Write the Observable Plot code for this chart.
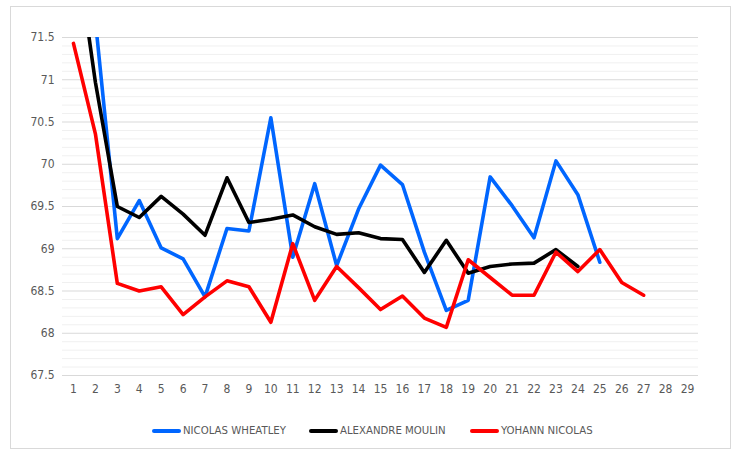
<!DOCTYPE html>
<html>
<head>
<meta charset="utf-8">
<script src="https://cdn.jsdelivr.net/npm/d3@7"></script>
<script src="https://cdn.jsdelivr.net/npm/@observablehq/plot@0.6"></script>
<style>
  body { margin: 0; background: #fff; width: 734px; height: 450px; overflow: hidden; position: relative;
         font-family: "Liberation Sans Narrow", "DejaVu Sans Condensed", sans-serif; }
  #frame { position: absolute; left: 10px; top: 6px; width: 719px; height: 441px; border: 1px solid #d9d9d9; pointer-events: none; }
  #legend { position: absolute; left: 0; top: 424px; width: 734px; height: 16px; }
  .item { position: absolute; top: 0; display: flex; align-items: center; font-size: 11.3px; color: #595959; white-space: nowrap; }
  .swatch { width: 29px; height: 4px; border-radius: 2px; margin-right: 2px; }
</style>
</head>
<body>
<div id="chart"></div>
<div id="legend"></div>
<div id="frame"></div>
<script>
const laps = d3.range(1, 30); // categories 1..29
const seriesNames = ["NICOLAS WHEATLEY", "ALEXANDRE MOULIN", "YOHANN NICOLAS"];
const seriesColors = ["#0066ff", "#000000", "#ff0000"];

const wheatley = [null, 71.7, 69.12, 69.57, 69.01, 68.88, 68.43, 69.24, 69.21, 70.55,
  68.9, 69.77, 68.8, 69.47, 69.99, 69.76, 68.96, 68.27, 68.39, 69.85,
  69.51, 69.13, 70.04, 69.64, 68.84];
const moulin = [72.8, 70.97, 69.5, 69.37, 69.62, 69.41, 69.16, 69.84, 69.31, 69.35,
  69.4, 69.26, 69.17, 69.19, 69.12, 69.11, 68.72, 69.1, 68.71, 68.79,
  68.82, 68.83, 68.99, 68.79];
const nicolas = [71.43, 70.36, 68.59, 68.5, 68.55, 68.22, 68.43, 68.62, 68.55, 68.13,
  69.06, 68.39, 68.79, 68.54, 68.28, 68.44, 68.18, 68.07, 68.87, 68.66,
  68.45, 68.45, 68.96, 68.73, 68.99, 68.6, 68.45];

const yTicks = [67.5, 68, 68.5, 69, 69.5, 70, 70.5, 71, 71.5];
const yMinor = d3.range(675, 716, 1).map(v => v / 10).filter(v => Math.round(v * 10) % 5 !== 0);

const allSeries = [wheatley, moulin, nicolas];
const rows = [];
allSeries.forEach((vals, si) => {
  vals.forEach((v, i) => { if (v != null) rows.push({lap: laps[i], value: v, series: seriesNames[si]}); });
});

const chart = Plot.plot({
  width: 734,
  height: 405,
  marginTop: 37,
  marginBottom: 30,
  marginLeft: 62,
  marginRight: 36,
  style: {fontFamily: '"Liberation Sans Narrow", "DejaVu Sans Condensed", sans-serif', fontSize: "12px", color: "#595959", background: "white"},
  x: {domain: [0.5, 29.5]},
  y: {domain: [67.5, 71.5]},
  color: {domain: seriesNames, range: seriesColors},
  marks: [
    Plot.ruleY(yMinor, {stroke: "#f0f0f0", strokeWidth: 1}),
    Plot.ruleY(yTicks, {stroke: "#d9d9d9", strokeWidth: 1}),
    Plot.axisY({ticks: yTicks, tickSize: 0, tickPadding: 8, tickFormat: d => String(d), label: null, fill: "#595959"}),
    Plot.axisX({ticks: laps, tickSize: 0, tickPadding: 9, tickFormat: d => String(d), label: null, fill: "#595959"}),
    Plot.line(rows, {x: "lap", y: "value", z: "series", stroke: "series", strokeWidth: 3.6, strokeLinejoin: "round", strokeLinecap: "round", clip: true})
  ]
});
document.getElementById("chart").appendChild(chart);

const legend = document.getElementById("legend");
const lefts = [152, 309, 470];
seriesNames.forEach((name, i) => {
  const item = document.createElement("div");
  item.className = "item";
  item.style.left = lefts[i] + "px";
  const sw = document.createElement("div");
  sw.className = "swatch";
  sw.style.background = seriesColors[i];
  const t = document.createElement("span");
  t.textContent = name;
  item.appendChild(sw);
  item.appendChild(t);
  legend.appendChild(item);
});
</script>
</body>
</html>
